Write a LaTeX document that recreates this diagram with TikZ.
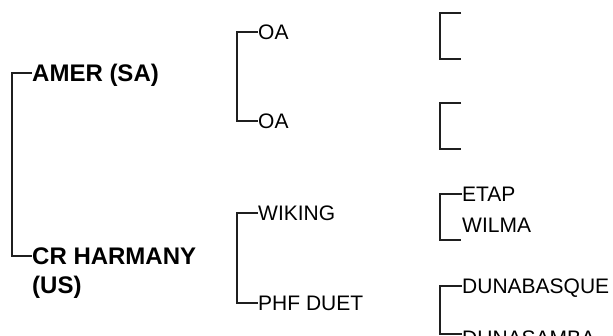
\documentclass[tikz,border=0pt]{standalone}
\usepackage{fontspec}
\setmainfont{Liberation Sans}
\usepackage{tikz}
\tikzset{
% Two text styles for the family tree: heads and plain names
head node/.style={anchor=west,inner sep=0pt,text height=17pt,text depth=0pt,
  font=\bfseries\fontsize{24}{29}\selectfont},
name node/.style={anchor=west,inner sep=0pt,text height=15pt,text depth=0pt,
  font=\fontsize{21}{25}\selectfont},
bracket/.style={draw=black!88,line width=2.2pt}
}

\begin{document}
\begin{tikzpicture}[x=1pt,y=-1pt]
        \useasboundingbox (0,0) rectangle (613,335);
        \clip (0,0) rectangle (613,335);
        % First level (base of a two-line node is its last line)
        \node(amer)[head node] at (32,73){AMER (SA)};
        \node(harm)[inner sep=0pt,align=left,anchor=base west,
          font=\bfseries\fontsize{24}{29}\selectfont] at (32,293.6){CR HARMANY\\(US)};
        \coordinate(harm-in) at (32,256);
        \draw[bracket](amer.west) -- ++(-20,0) |- (harm-in);
        % Second level
        \node(oa1)[name node] at (258,32){OA};
        \node(oa2)[name node] at (258,121){OA};
        \draw[bracket](oa1.west) -- ++(-21,0) |- (oa2.west);
        \node(wiking)[name node] at (258,213){WIKING};
        \node(duet)[name node] at (258,303){PHF DUET};
        \draw[bracket](wiking.west) -- ++(-21,0) |- (duet.west);
        % Third level (the first two are empty)
        \coordinate(e1) at (461,13);
        \coordinate(e2) at (461,59);
        \draw[bracket](e1) -- ++(-21,0) |- (e2);
        \coordinate(e3) at (461,103);
        \coordinate(e4) at (461,149);
        \draw[bracket](e3) -- ++(-21,0) |- (e4);
        \node(etap)[name node] at (462,194){ETAP};
        \node(wilma)[name node] at (462,225){WILMA};
        \coordinate(e5) at (461,240);
        \draw[bracket](etap.west) -- ++(-22,0) |- (e5);
        \node(basque)[name node] at (462,286){DUNABASQUE};
        \node(samba)[name node] at (462,338){DUNASAMBA};
        \draw[bracket](basque.west) -- ++(-22,0) |- ([yshift=4pt]samba.west);
      \end{tikzpicture}
\end{document}
